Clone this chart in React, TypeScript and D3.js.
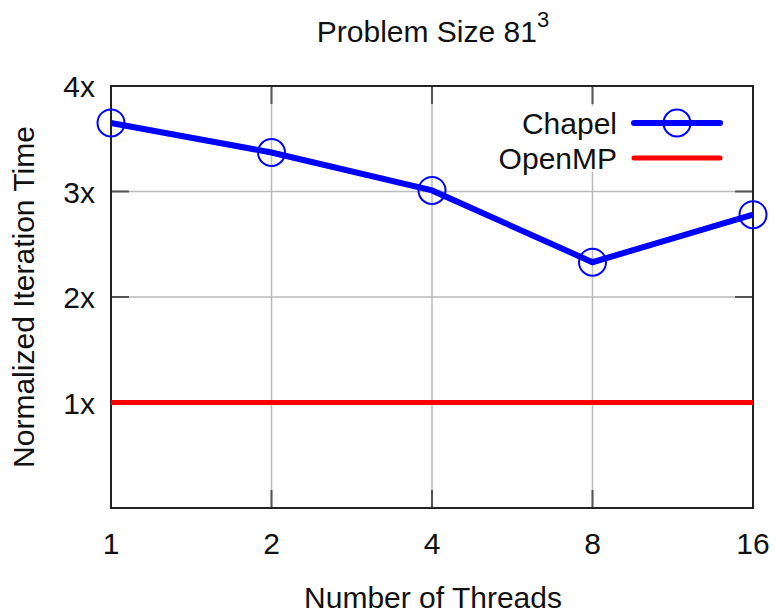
import { useEffect, useRef } from "react";
import * as d3 from "d3";

const threads = [1, 2, 4, 8, 16];
const chapel = [3.65, 3.37, 3.01, 2.33, 2.78];
const openmp = [1, 1, 1, 1, 1];
const yTicks = [1, 2, 3, 4];

const W = 775;
const H = 613;
const m = { left: 111, right: 753, top: 86, bottom: 508 };
const font = "'Liberation Sans', Arial, sans-serif";
const fs = 30;

const drawChart = (svgEl: SVGSVGElement) => {
  const svg = d3.select(svgEl);
  svg.selectAll("*").remove();

  const x = d3.scaleLog().base(2).domain([1, 16]).range([m.left, m.right]);
  const y = d3.scaleLinear().domain([0, 4]).range([m.bottom, m.top]);

  const g = svg.append("g");

  // legend region (grid gets broken there)
  const legendBox = { x0: 500, x1: 740, y0: 106, y1: 172 };

  // vertical grid
  threads.forEach((t) => {
    const xx = x(t);
    if (t === 1 || t === 16) return;
    if (xx > legendBox.x0 && xx < legendBox.x1) {
      g.append("line").attr("x1", xx).attr("x2", xx).attr("y1", m.top).attr("y2", legendBox.y0)
        .attr("stroke", "#bbbbbb").attr("stroke-width", 1.5);
      g.append("line").attr("x1", xx).attr("x2", xx).attr("y1", legendBox.y1).attr("y2", m.bottom)
        .attr("stroke", "#bbbbbb").attr("stroke-width", 1.5);
    } else {
      g.append("line").attr("x1", xx).attr("x2", xx).attr("y1", m.top).attr("y2", m.bottom)
        .attr("stroke", "#bbbbbb").attr("stroke-width", 1.5);
    }
  });

  // horizontal grid
  yTicks.forEach((v) => {
    if (v === 4) return;
    g.append("line").attr("x1", m.left).attr("x2", m.right).attr("y1", y(v)).attr("y2", y(v))
      .attr("stroke", "#bbbbbb").attr("stroke-width", 1.5);
  });

  // ticks
  const tl = 18;
  threads.forEach((t) => {
    const xx = x(t);
    g.append("line").attr("x1", xx).attr("x2", xx).attr("y1", m.bottom).attr("y2", m.bottom - tl)
      .attr("stroke", "#555").attr("stroke-width", 2);
    g.append("line").attr("x1", xx).attr("x2", xx).attr("y1", m.top).attr("y2", m.top + tl)
      .attr("stroke", "#555").attr("stroke-width", 2);
    g.append("text").attr("x", xx).attr("y", 554).attr("text-anchor", "middle")
      .attr("font-family", font).attr("font-size", fs).attr("fill", "#111").text(String(t));
  });
  yTicks.forEach((v) => {
    const yy = y(v);
    g.append("line").attr("x1", m.left).attr("x2", m.left + tl).attr("y1", yy).attr("y2", yy)
      .attr("stroke", "#555").attr("stroke-width", 2);
    g.append("line").attr("x1", m.right).attr("x2", m.right - tl).attr("y1", yy).attr("y2", yy)
      .attr("stroke", "#555").attr("stroke-width", 2);
    g.append("text").attr("x", 95).attr("y", yy + 11).attr("text-anchor", "end")
      .attr("font-family", font).attr("font-size", fs).attr("fill", "#111").text(`${v}x`);
  });

  // frame
  g.append("rect").attr("x", m.left).attr("y", m.top).attr("width", m.right - m.left)
    .attr("height", m.bottom - m.top).attr("fill", "none").attr("stroke", "#222").attr("stroke-width", 2);

  const line = d3.line<number>().x((_, i) => x(threads[i])).y((d) => y(d));

  // OpenMP
  g.append("path").datum(openmp).attr("d", line).attr("fill", "none")
    .attr("stroke", "#ff0000").attr("stroke-width", 5);

  // Chapel
  g.append("path").datum(chapel).attr("d", line).attr("fill", "none")
    .attr("stroke", "#0000ff").attr("stroke-width", 6).attr("stroke-linejoin", "miter");
  g.selectAll("circle.pt").data(chapel).enter().append("circle")
    .attr("cx", (_, i) => x(threads[i])).attr("cy", (d) => y(d)).attr("r", 13.5)
    .attr("fill", "none").attr("stroke", "#0000ff").attr("stroke-width", 2);

  // legend
  const lg = g.append("g");
  lg.append("text").attr("x", 617).attr("y", 134).attr("text-anchor", "end")
    .attr("font-family", font).attr("font-size", fs).attr("fill", "#111").text("Chapel");
  lg.append("line").attr("x1", 634).attr("x2", 720).attr("y1", 123).attr("y2", 123)
    .attr("stroke", "#0000ff").attr("stroke-width", 6).attr("stroke-linecap", "round");
  lg.append("circle").attr("cx", 677).attr("cy", 123).attr("r", 13.5)
    .attr("fill", "none").attr("stroke", "#0000ff").attr("stroke-width", 2);
  lg.append("text").attr("x", 617).attr("y", 169).attr("text-anchor", "end")
    .attr("font-family", font).attr("font-size", fs).attr("fill", "#111").text("OpenMP");
  lg.append("line").attr("x1", 634).attr("x2", 720).attr("y1", 158).attr("y2", 158)
    .attr("stroke", "#ff0000").attr("stroke-width", 5).attr("stroke-linecap", "round");

  // title
  const title = svg.append("text").attr("x", 433).attr("y", 42).attr("text-anchor", "middle")
    .attr("font-family", font).attr("font-size", fs).attr("fill", "#111");
  title.append("tspan").text("Problem Size 81");
  title.append("tspan").attr("dy", -15).attr("font-size", 22).text("3");

  // axis labels
  svg.append("text").attr("x", 433).attr("y", 608).attr("text-anchor", "middle")
    .attr("font-family", font).attr("font-size", fs).attr("fill", "#111").text("Number of Threads");
  svg.append("text").attr("transform", "translate(34,297) rotate(-90)").attr("text-anchor", "middle")
    .attr("font-family", font).attr("font-size", fs).attr("fill", "#111").text("Normalized Iteration Time");
};

const App = () => {
  const ref = useRef<SVGSVGElement>(null);
  useEffect(() => {
    if (ref.current) drawChart(ref.current);
  }, []);
  return (
    <svg ref={ref} width={W} height={H} style={{ position: "absolute", left: 0, top: 0, background: "#fff" }} />
  );
};

export default App;
